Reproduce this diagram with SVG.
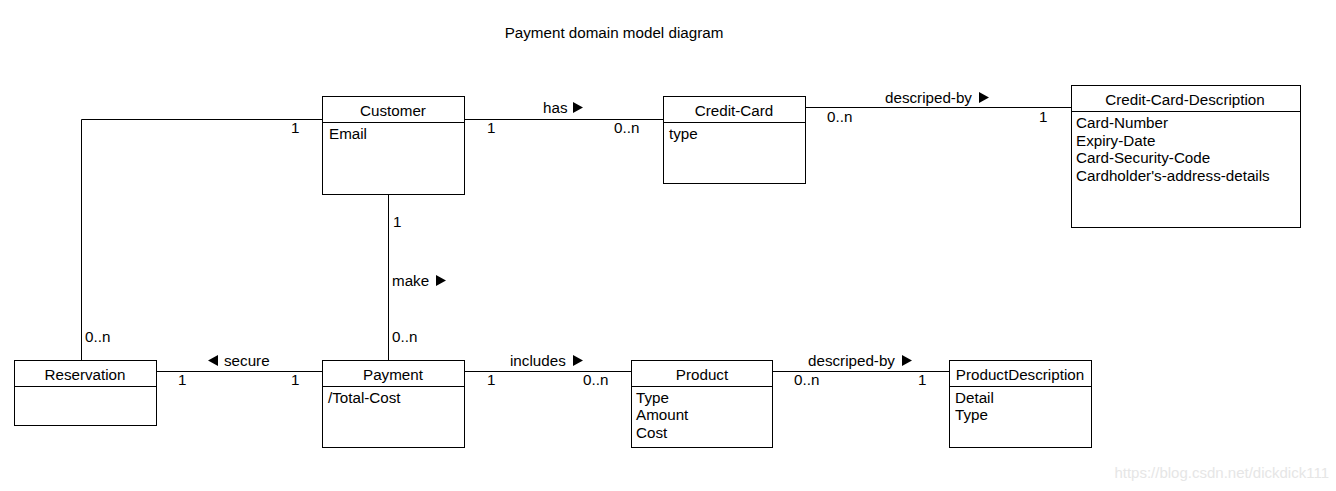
<svg xmlns="http://www.w3.org/2000/svg" width="1336" height="491" viewBox="0 0 1336 491">
<style>
text{font-family:"Liberation Sans",Arial,sans-serif;font-size:15.2px;fill:#000}
.box{fill:#fff;stroke:#000;stroke-width:1}
.ln{stroke:#000;stroke-width:1;fill:none}
.c{text-anchor:middle}
.tri{fill:#000}
.wm{font-size:15px;fill:#e6e6e6;text-anchor:end}
</style>
<rect width="1336" height="491" fill="#fff"/>
<text x="614" y="38" class="c">Payment domain model diagram</text>

<g id="connectors">
  <polyline class="ln" points="322.5,119.5 81.5,119.5 81.5,361"/>
  <line class="ln" x1="464" y1="119.5" x2="663" y2="119.5"/>
  <line class="ln" x1="806" y1="107.5" x2="1071" y2="107.5"/>
  <line class="ln" x1="388.5" y1="194" x2="388.5" y2="361"/>
  <line class="ln" x1="157" y1="371.5" x2="322" y2="371.5"/>
  <line class="ln" x1="464" y1="371.5" x2="631" y2="371.5"/>
  <line class="ln" x1="773" y1="371.5" x2="949" y2="371.5"/>

  <text x="291" y="133">1</text>
  <text x="85" y="342">0..n</text>

  <text x="543" y="113">has</text>
  <polygon class="tri" points="573,102 583,107.5 573,113"/>
  <text x="487" y="133">1</text>
  <text x="614" y="133">0..n</text>

  <text x="885" y="103">descriped-by</text>
  <polygon class="tri" points="979,92 989,97.5 979,103"/>
  <text x="827" y="122">0..n</text>
  <text x="1039" y="122">1</text>

  <text x="393" y="227">1</text>
  <text x="392" y="286">make</text>
  <polygon class="tri" points="436,275 446,280.5 436,286"/>
  <text x="392" y="342">0..n</text>

  <polygon class="tri" points="218,355 208,360.5 218,366"/>
  <text x="224" y="366">secure</text>
  <text x="178" y="385">1</text>
  <text x="291" y="385">1</text>

  <text x="510" y="366">includes</text>
  <polygon class="tri" points="573,355 583,360.5 573,366"/>
  <text x="487" y="385">1</text>
  <text x="583" y="385">0..n</text>

  <text x="808" y="366">descriped-by</text>
  <polygon class="tri" points="902,355 912,360.5 902,366"/>
  <text x="794" y="385">0..n</text>
  <text x="918" y="385">1</text>
</g>

<g id="customer">
  <rect class="box" x="322.5" y="96.5" width="142" height="98"/>
  <line class="ln" x1="322.5" y1="122.5" x2="464.5" y2="122.5"/>
  <text x="393" y="116" class="c">Customer</text>
  <text x="329" y="139">Email</text>
</g>

<g id="credit-card">
  <rect class="box" x="663.5" y="96.5" width="142" height="87"/>
  <line class="ln" x1="663.5" y1="122.5" x2="805.5" y2="122.5"/>
  <text x="734" y="116" class="c">Credit-Card</text>
  <text x="669" y="139">type</text>
</g>

<g id="credit-card-description">
  <rect class="box" x="1071.5" y="85.5" width="229" height="142"/>
  <line class="ln" x1="1071.5" y1="111.5" x2="1300.5" y2="111.5"/>
  <text x="1185" y="105" class="c">Credit-Card-Description</text>
  <text x="1076" y="128">Card-Number</text>
  <text x="1076" y="146">Expiry-Date</text>
  <text x="1076" y="163">Card-Security-Code</text>
  <text x="1076" y="181">Cardholder's-address-details</text>
</g>

<g id="reservation">
  <rect class="box" x="14.5" y="360.5" width="142" height="65"/>
  <line class="ln" x1="14.5" y1="386.5" x2="156.5" y2="386.5"/>
  <text x="85" y="380" class="c">Reservation</text>
</g>

<g id="payment">
  <rect class="box" x="322.5" y="360.5" width="142" height="87"/>
  <line class="ln" x1="322.5" y1="386.5" x2="464.5" y2="386.5"/>
  <text x="393" y="380" class="c">Payment</text>
  <text x="328" y="403">/Total-Cost</text>
</g>

<g id="product">
  <rect class="box" x="631.5" y="360.5" width="141" height="87"/>
  <line class="ln" x1="631.5" y1="386.5" x2="772.5" y2="386.5"/>
  <text x="702" y="380" class="c">Product</text>
  <text x="636" y="403">Type</text>
  <text x="636" y="420">Amount</text>
  <text x="636" y="438">Cost</text>
</g>

<g id="product-description">
  <rect class="box" x="949.5" y="360.5" width="142" height="87"/>
  <line class="ln" x1="949.5" y1="386.5" x2="1091.5" y2="386.5"/>
  <text x="1020" y="380" class="c">ProductDescription</text>
  <text x="955" y="403">Detail</text>
  <text x="955" y="420">Type</text>
</g>

<text x="1329" y="478" class="wm">https://blog.csdn.net/dickdick111</text>
</svg>
